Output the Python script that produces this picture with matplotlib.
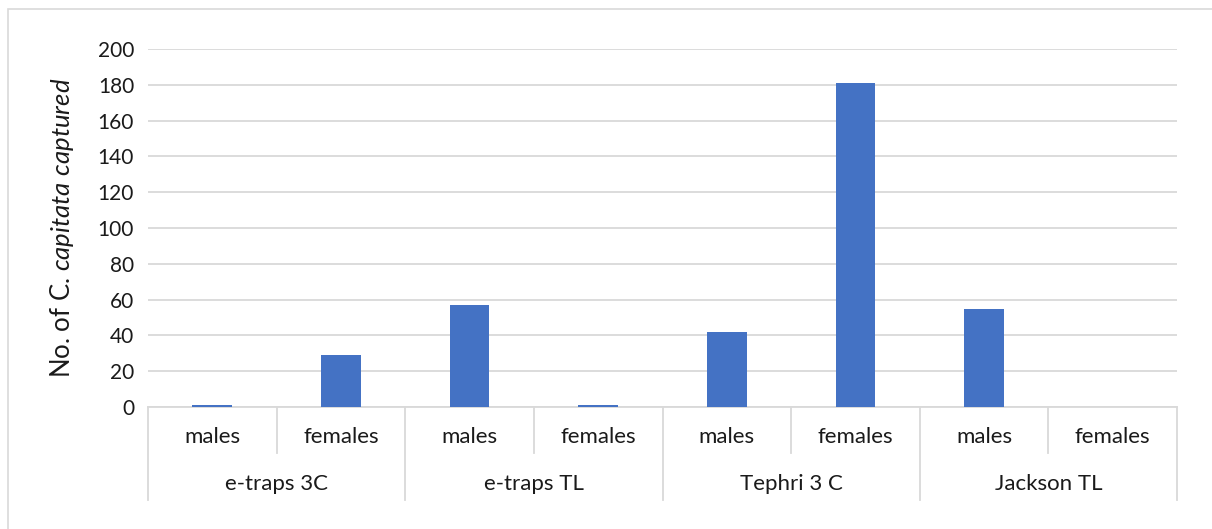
import matplotlib.pyplot as plt
import matplotlib.transforms as mtransforms
from matplotlib.patches import Rectangle

plt.rcParams['font.family'] = ['Lato', 'DejaVu Sans']
plt.rcParams['mathtext.fontset'] = 'custom'
plt.rcParams['mathtext.rm'] = 'Lato'
plt.rcParams['mathtext.it'] = 'Lato:italic'

groups = ['e-traps 3C', 'e-traps TL', 'Tephri 3 C', 'Jackson TL']
sexes = ['males', 'females']
counts = [1, 29, 57, 1, 42, 181, 55, 0]
yticks = [0, 20, 40, 60, 80, 100, 120, 140, 160, 180, 200]

bar_color = '#4472C4'
grid_color = '#D9D9D9'
text_color = '#1a1a1a'

fig = plt.figure(figsize=(12.12, 5.29), dpi=100)
ax = fig.add_axes([148 / 1212, 1 - 407 / 529, 1029 / 1212, 358 / 529])

# chart border
fig.patches.append(Rectangle((8 / 1212, -0.1), 1.2, 1 - 9 / 529 + 0.1,
                             transform=fig.transFigure, fill=False,
                             edgecolor=grid_color, linewidth=1.2))

n = len(counts)
xs = [i + 0.5 for i in range(n)]
ax.bar(xs, counts, width=0.31, color=bar_color, zorder=3)

ax.set_xlim(0, n)
ax.set_ylim(0, 200)
ax.set_yticks(yticks)
ax.set_yticklabels([str(v) for v in yticks], fontsize=15, color=text_color)
ax.tick_params(axis='y', length=0, pad=10)
ax.set_xticks([])
ax.yaxis.grid(True, color=grid_color, linewidth=1.3, zorder=0)
for s in ['top', 'right', 'left']:
    ax.spines[s].set_visible(False)
ax.spines['bottom'].set_color(grid_color)
ax.spines['bottom'].set_linewidth(1.3)

ax.set_ylabel(r'No. of C. $\it{capitata\ captured}$', fontsize=18.5,
              color=text_color, labelpad=16)

trans = mtransforms.blended_transform_factory(ax.transData, ax.transAxes)
inner_bottom = -(453 - 407) / 358
outer_bottom = -(500 - 407) / 358

for i, x in enumerate(xs):
    ax.text(x, -(437 - 407) / 358, sexes[i % 2], transform=trans,
            ha='center', va='center', fontsize=16, color=text_color)

for g, name in enumerate(groups):
    ax.text(2 * g + 1, -(484 - 407) / 358, name, transform=trans,
            ha='center', va='center', fontsize=16, color=text_color)
    # inner divider
    ax.plot([2 * g + 1, 2 * g + 1], [0, inner_bottom], transform=trans,
            color=grid_color, linewidth=1.3, clip_on=False)

for b in range(len(groups) + 1):
    ax.plot([2 * b, 2 * b], [0, outer_bottom], transform=trans,
            color=grid_color, linewidth=1.3, clip_on=False)

fig.savefig('out.png', dpi=100)
